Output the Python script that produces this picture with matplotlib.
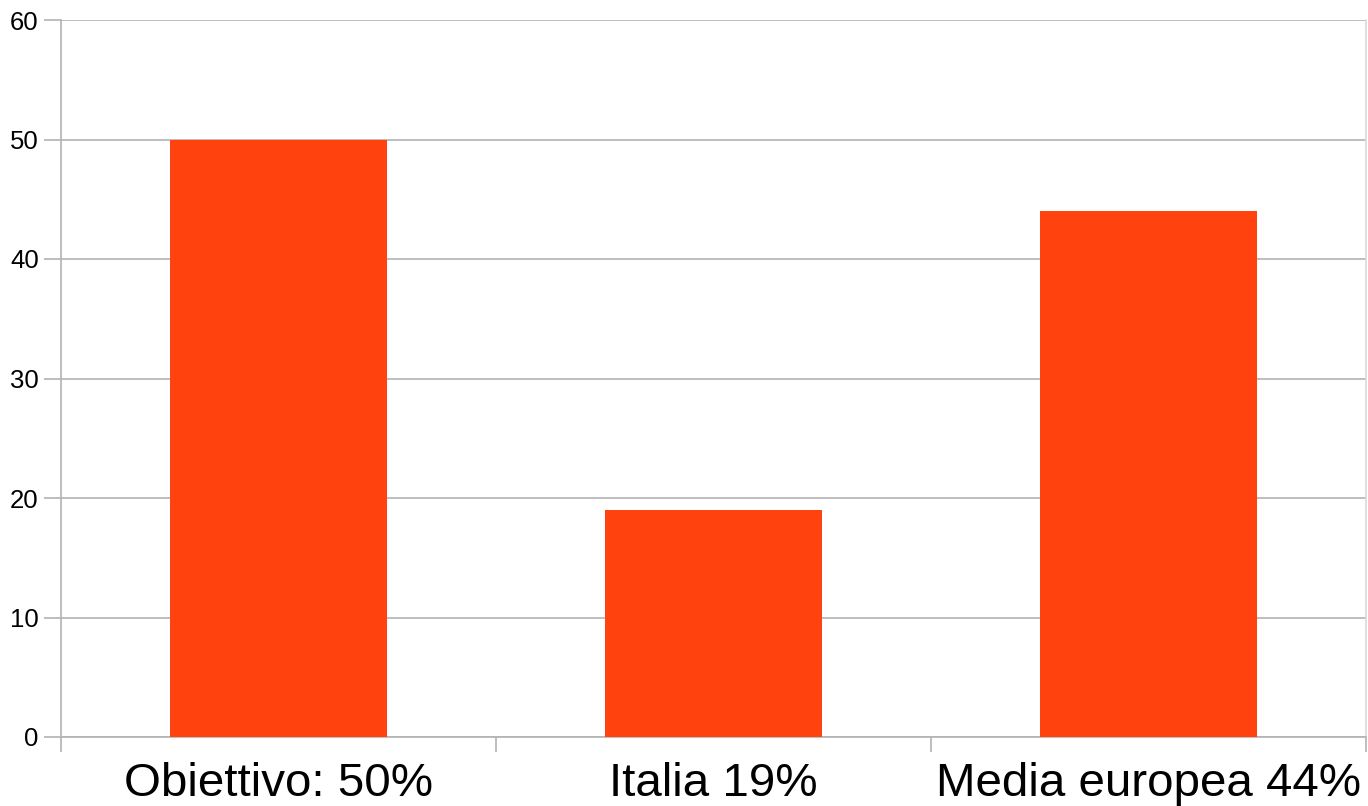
import matplotlib
matplotlib.use("Agg")
import matplotlib.pyplot as plt
import numpy as np

categories = ["Obiettivo: 50%", "Italia 19%", "Media europea 44%"]
values = [50, 19, 44]
yticks = [0, 10, 20, 30, 40, 50, 60]

plt.rcParams['font.family'] = ['Liberation Sans', 'DejaVu Sans']

fig = plt.figure(figsize=(13.68, 8.06), dpi=100)
ax = fig.add_axes([61/1368, (806-737)/806, (1366-61)/1368, (737-20)/806])

x = np.arange(len(categories))
ax.bar(x, values, width=0.5, color="#ff420e", zorder=3)

ax.set_xlim(-0.5, len(categories) - 0.5)
ax.set_ylim(0, 60)
ax.set_yticks(yticks)
ax.set_yticklabels([str(v) for v in yticks], fontsize=18.5)
ax.yaxis.grid(True, color="#b3b3b3", linewidth=1.2, zorder=0)

ax.set_xticks(x)
ax.set_xticklabels(categories, fontsize=34.2)
ax.set_xticks(np.arange(len(categories) + 1) - 0.5, minor=True)
ax.tick_params(axis='x', which='major', length=0, pad=18)
ax.tick_params(axis='x', which='minor', length=11, width=1.2, color="#b3b3b3")
ax.tick_params(axis='y', length=12, width=1.2, color="#b3b3b3", pad=4)

ax.spines['top'].set_visible(False)
ax.spines['right'].set_color("#d9d9d9")
ax.spines['left'].set_color("#b3b3b3")
ax.spines['bottom'].set_color("#b3b3b3")
for s in ['left', 'bottom', 'right']:
    ax.spines[s].set_linewidth(1.2)
ax.set_axisbelow(True)

fig.savefig("out.png", dpi=100)
